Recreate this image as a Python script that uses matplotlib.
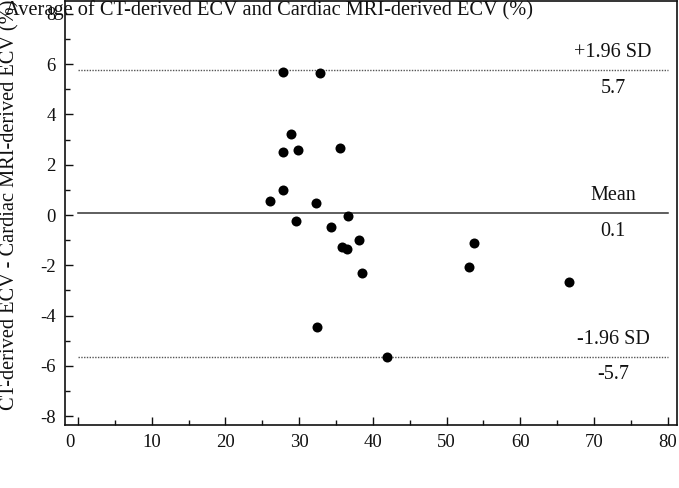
import matplotlib
matplotlib.use("Agg")
import matplotlib.pyplot as plt
from matplotlib.ticker import MultipleLocator
import matplotlib.transforms as mtransforms

# ---- data ----
avg_ecv = [27.85, 32.79, 28.90, 27.85, 29.89, 35.50, 27.77, 26.01, 32.25, 29.58,
           36.67, 34.32, 35.82, 36.45, 38.12, 38.49, 53.68, 53.05, 32.42, 66.61, 41.88]
diff_ecv = [5.70, 5.64, 3.23, 2.51, 2.57, 2.65, 0.99, 0.55, 0.46, -0.25,
            -0.03, -0.48, -1.28, -1.37, -0.99, -2.32, -1.11, -2.06, -4.45, -2.68, -5.66]
mean_diff = 0.07
upper_loa = 5.76
lower_loa = -5.64
line_labels_above = ["+1.96 SD", "Mean", "-1.96 SD"]
line_labels_below = ["5.7", "0.1", "-5.7"]
x_ticks = [0, 10, 20, 30, 40, 50, 60, 70, 80]
y_ticks = [-8, -6, -4, -2, 0, 2, 4, 6, 8]
x_label = "Average of CT-derived ECV and Cardiac MRI-derived ECV (%)"
y_label = "CT-derived ECV - Cardiac MRI-derived ECV (%)"

plt.rcParams['font.family'] = ['Liberation Serif', 'DejaVu Serif']
plt.rcParams['axes.unicode_minus'] = False

W, H = 679, 488
fig = plt.figure(figsize=(W / 100, H / 100), dpi=100)
ax = fig.add_axes([65 / W, 1 - 424.5 / H, (676.7 - 65) / W, (424.5 - 1) / H])

ax.set_xlim(-1.76, 81.22)
ax.set_ylim(-8.33, 8.51)

ax.scatter(avg_ecv, diff_ecv, s=52, color='black', zorder=3, linewidths=0)

ax.plot([0, 80], [mean_diff, mean_diff], color='#333333', lw=1.1, zorder=2)
ax.plot([0, 80], [upper_loa, upper_loa], color='#555555', lw=1.0, ls=(0, (1, 1)), zorder=2)
ax.plot([0, 80], [lower_loa, lower_loa], color='#555555', lw=1.0, ls=(0, (1, 1)), zorder=2)

levels = [upper_loa, mean_diff, lower_loa]
for lvl, above, below in zip(levels, line_labels_above, line_labels_below):
    ax.annotate(above, (72.6, lvl), xytext=(0, 12.5), textcoords='offset points',
                ha='center', va='center', fontsize=14.5, color='#111111')
    ax.annotate(below, (72.6, lvl), xytext=(0, -13), textcoords='offset points',
                ha='center', va='center', fontsize=14.5, color='#111111')

ax.set_xticks(x_ticks)
ax.set_yticks(y_ticks)
ax.xaxis.set_minor_locator(MultipleLocator(5))
ax.yaxis.set_minor_locator(MultipleLocator(1))
ax.tick_params(which='both', direction='in', width=1.0, colors='#111111', labelsize=13.5)
ax.tick_params(which='major', length=6, pad=6.5)
ax.tick_params(which='minor', length=3.5)
for s in ['left', 'bottom', 'right', 'top']:
    ax.spines[s].set_linewidth(1.2)
    ax.spines[s].set_color('#111111')

fig.canvas.draw()
lbl0 = ax.get_xticklabels()[0]
lbl0.set_transform(lbl0.get_transform() + mtransforms.ScaledTranslation(-8 / 100, 0, fig.dpi_scale_trans))

fig.text(5 / W, 1 - 10 / H, x_label, ha='left', va='center', fontsize=14.7, color='#111111')
fig.text(10 / W, 1 - 410 / H, y_label, ha='center', va='bottom', rotation=90, fontsize=14.7, color='#111111')

fig.savefig("out.png", dpi=100)
